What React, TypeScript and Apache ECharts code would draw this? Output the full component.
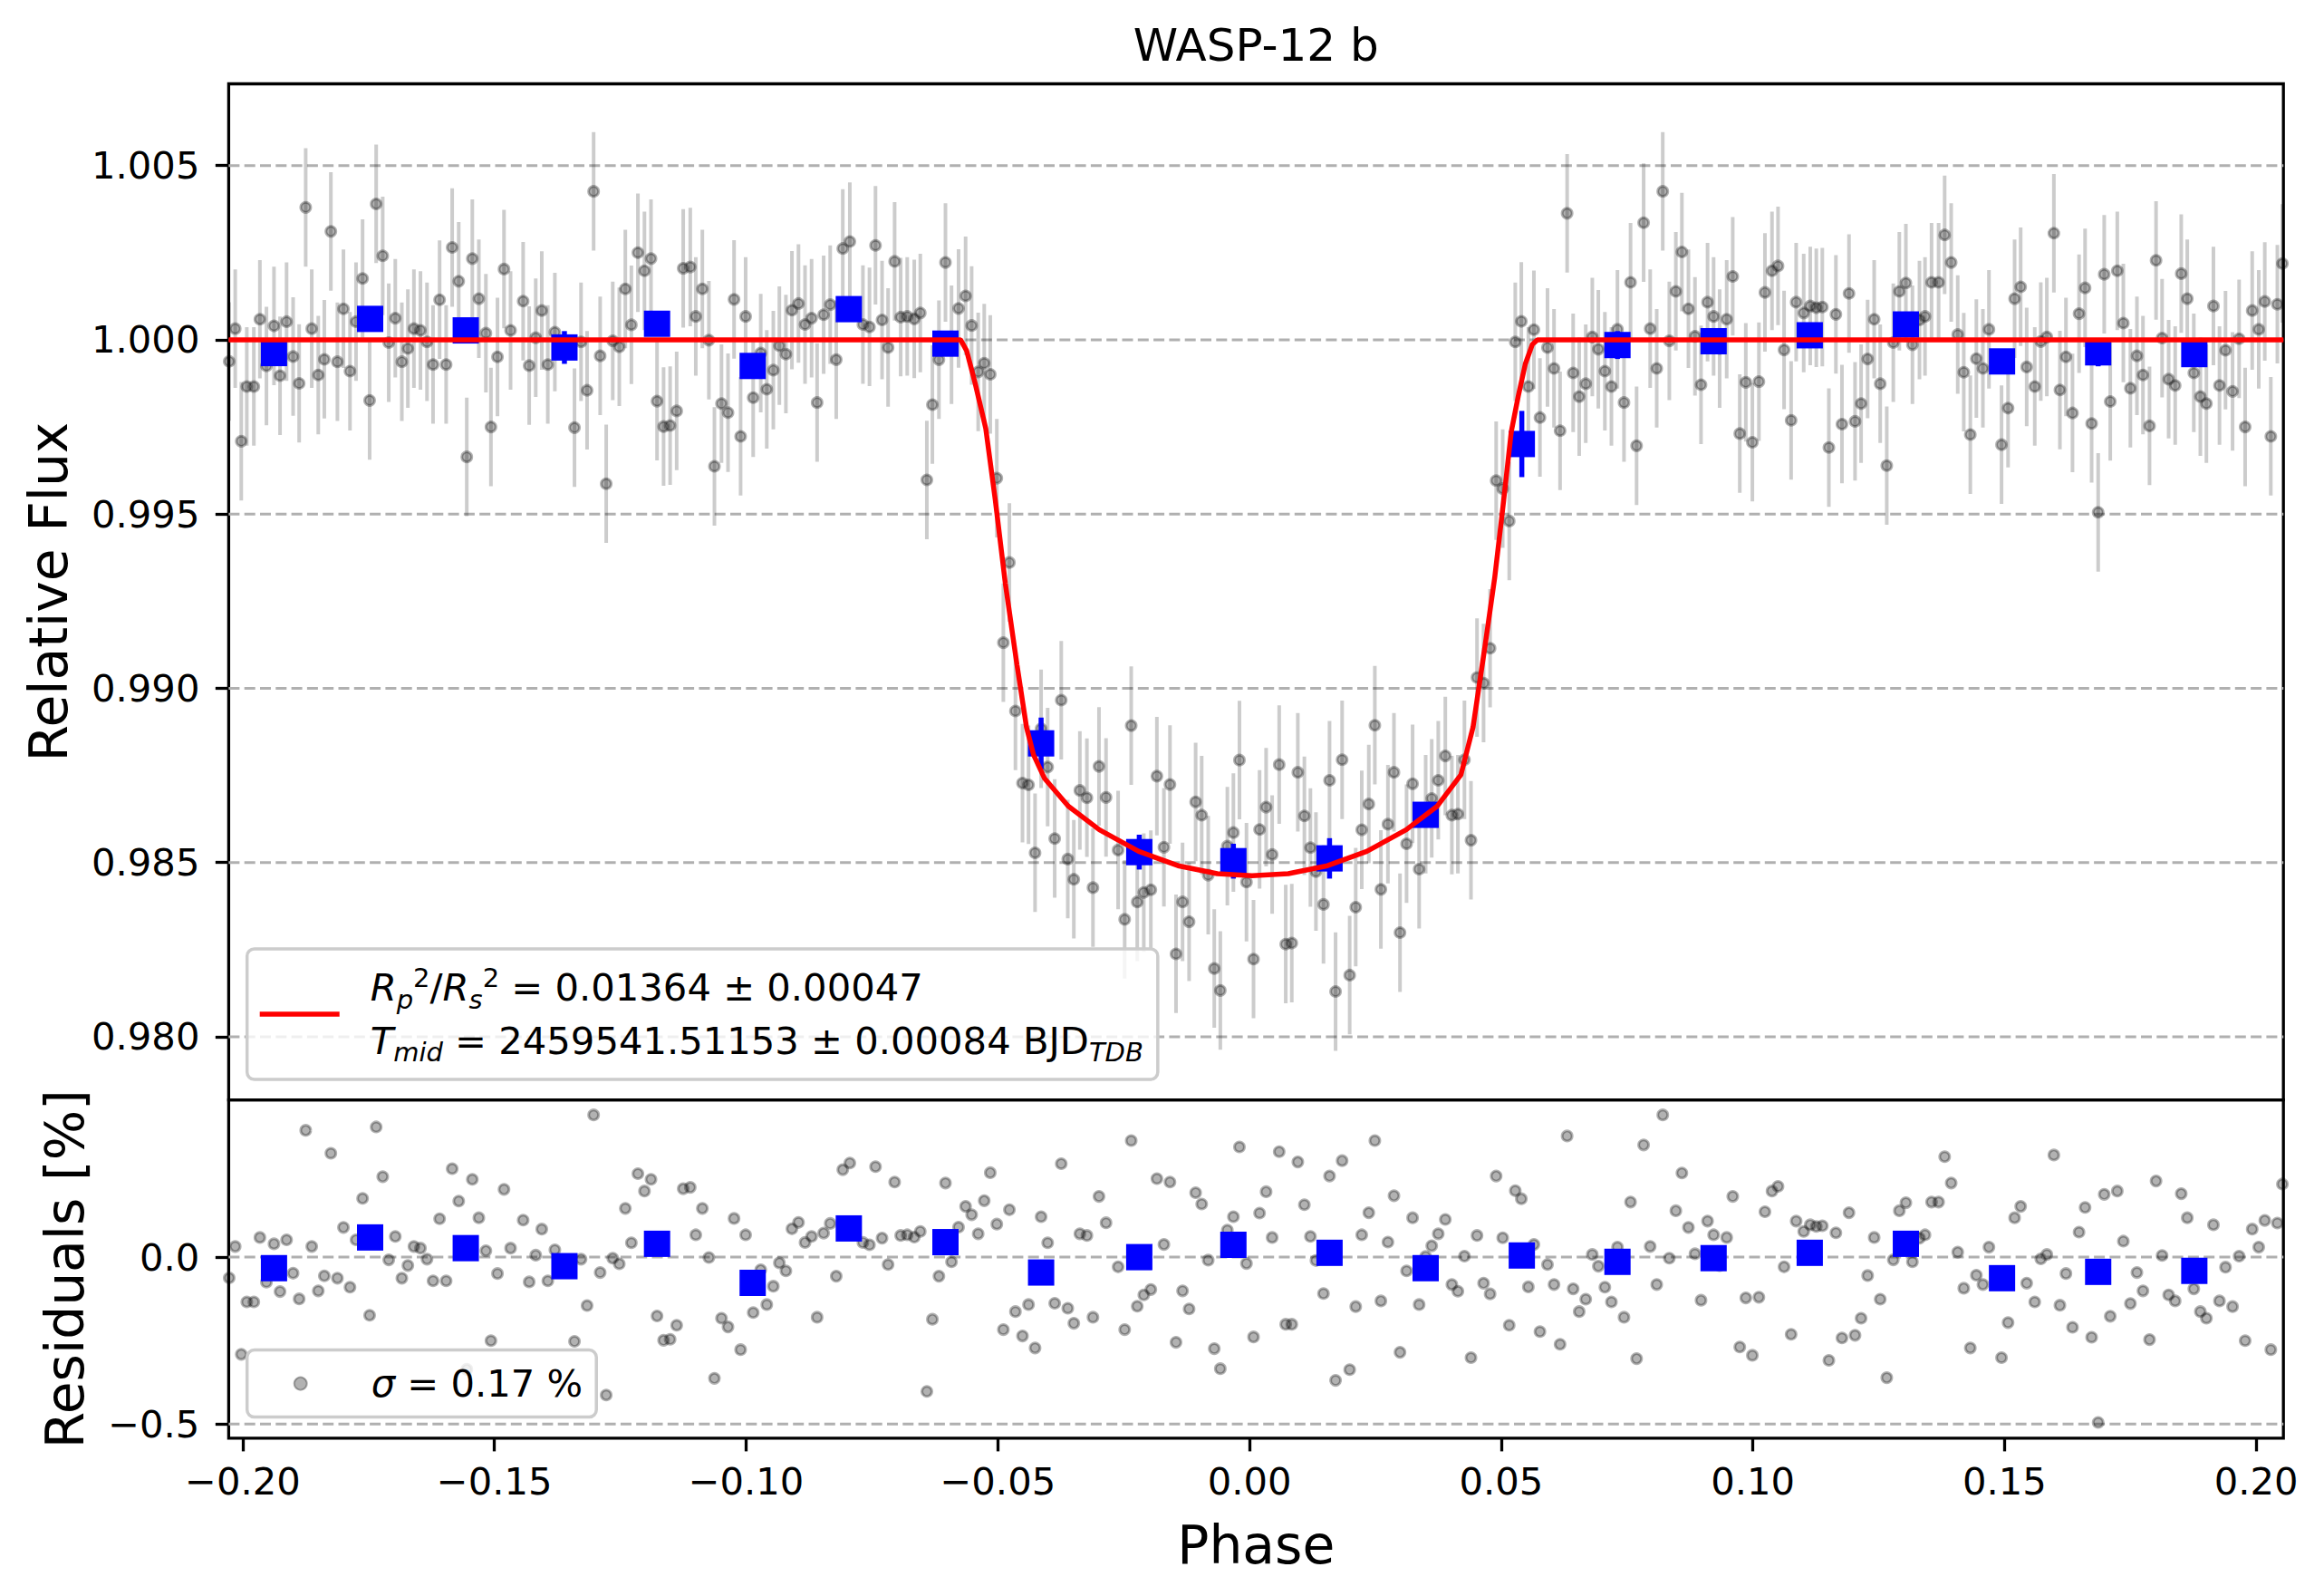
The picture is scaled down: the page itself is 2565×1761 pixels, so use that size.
import React, { useEffect, useRef } from 'react';
import * as echarts from 'echarts';

// ---------- data ----------
const PHASE = [
  -0.2027, -0.2015, -0.2003, -0.1992, -0.1978, -0.1966, -0.1953, -0.1938, -0.1926, -0.1913,
  -0.1900, -0.1888, -0.1875, -0.1863, -0.1850, -0.1838, -0.1825, -0.1812, -0.1800, -0.1787,
  -0.1775, -0.1762, -0.1748, -0.1735, -0.1722, -0.1710, -0.1697, -0.1684, -0.1672, -0.1660,
  -0.1647, -0.1634, -0.1622, -0.1609, -0.1596, -0.1584, -0.1571, -0.1555, -0.1544, -0.1531,
  -0.1517, -0.1507, -0.1494, -0.1481, -0.1468, -0.1443, -0.1431, -0.1418, -0.1406, -0.1394,
  -0.1380, -0.1341, -0.1328, -0.1316, -0.1303, -0.1290, -0.1278, -0.1265, -0.1252, -0.1240,
  -0.1228, -0.1215, -0.1202, -0.1189, -0.1177, -0.1164, -0.1151, -0.1138, -0.1125, -0.1111,
  -0.1100, -0.1087, -0.1074, -0.1063, -0.1049, -0.1036, -0.1024, -0.1011, -0.1001,
  -0.0986, -0.0971, -0.0959, -0.0946, -0.0934, -0.0921, -0.0909, -0.0896, -0.0883, -0.0870,
  -0.0859, -0.0846, -0.0833, -0.0821, -0.0808, -0.0794, -0.0768, -0.0755, -0.0743, -0.0730,
  -0.0718, -0.0705, -0.0693, -0.0680, -0.0666, -0.0654, -0.0641, -0.0630, -0.0617, -0.0604,
  -0.0592, -0.0578, -0.0564, -0.0552, -0.0539, -0.0527, -0.0515, -0.0502, -0.0489, -0.0477,
  -0.0465, -0.0451, -0.0439, -0.0426, -0.0414, -0.0401, -0.0387, -0.0374, -0.0361, -0.0349,
  -0.0337, -0.0323, -0.0311, -0.0299, -0.0285, -0.0261, -0.0248, -0.0235, -0.0223, -0.0210,
  -0.0196, -0.0184, -0.0170, -0.0158, -0.0146, -0.0133, -0.0120, -0.0107, -0.0095, -0.0082,
  -0.0070, -0.0058, -0.0044, -0.0032, -0.0020, -0.0006, 0.0008, 0.0020, 0.0033, 0.0045,
  0.0059, 0.0072, 0.0084, 0.0096, 0.0109, 0.0121, 0.0132, 0.0147, 0.0159, 0.0171,
  0.0184, 0.0199, 0.0211, 0.0223, 0.0237, 0.0249, 0.0261, 0.0275, 0.0287, 0.0299,
  0.0312, 0.0324, 0.0337, 0.0350, 0.0362, 0.0375, 0.0389, 0.0402, 0.0414, 0.0427,
  0.0440, 0.0452, 0.0465, 0.0478, 0.0490, 0.0503, 0.0516, 0.0528, 0.0540, 0.0554,
  0.0565, 0.0577, 0.0592, 0.0605, 0.0617, 0.0631, 0.0643, 0.0655, 0.0668, 0.0681,
  0.0693, 0.0706, 0.0719, 0.0731, 0.0744, 0.0757, 0.0769, 0.0783, 0.0796, 0.0809,
  0.0821, 0.0834, 0.0847, 0.0859, 0.0872, 0.0885, 0.0897, 0.0910, 0.0922, 0.0934,
  0.0948, 0.0960, 0.0974, 0.0986, 0.0999, 0.1012, 0.1024, 0.1038, 0.1050, 0.1062,
  0.1076, 0.1086,
  0.1101, 0.1114, 0.1126, 0.1138, 0.1151, 0.1165, 0.1177, 0.1191, 0.1203, 0.1215,
  0.1228, 0.1241, 0.1253, 0.1266, 0.1279, 0.1291, 0.1304, 0.1317, 0.1331, 0.1342,
  0.1355, 0.1369, 0.1381, 0.1394, 0.1407, 0.1419, 0.1432, 0.1444, 0.1457, 0.1469,
  0.1494, 0.1507, 0.1520, 0.1532, 0.1544, 0.1560, 0.1572, 0.1584, 0.1598, 0.1610,
  0.1622, 0.1635, 0.1648, 0.1660, 0.1673, 0.1686, 0.1698, 0.1710, 0.1724, 0.1736,
  0.1750, 0.1763, 0.1775, 0.1788, 0.1801, 0.1813, 0.1826, 0.1839, 0.1851, 0.1863,
  0.1876, 0.1889, 0.1901, 0.1915, 0.1927, 0.1939, 0.1953, 0.1966, 0.1978, 0.1992,
  0.2005, 0.2017, 0.2029, 0.2042, 0.2052,
];

const FLUX = [
  0.99938, 1.00032, 0.99709, 0.99866, 0.99866, 1.00059, 0.99925, 1.00040, 0.99897, 1.00052,
  0.99952, 0.99875, 1.00380, 1.00032, 0.99899, 0.99944, 1.00311, 0.99937, 1.00089, 0.99910,
  1.00052, 1.00176, 0.99826, 1.00390, 1.00241, 0.99992, 1.00062, 0.99937, 0.99975, 1.00032,
  1.00027, 0.99994, 0.99929, 1.00115, 0.99929, 1.00265, 1.00168, 0.99664, 1.00233, 1.00118,
  1.00019, 0.99750, 0.99951, 1.00203, 1.00027, 1.00111, 0.99926, 1.00006, 1.00084, 0.99929,
  1.00022, 0.99748, 0.99994, 0.99855, 1.00426, 0.99954, 0.99587, 0.99997, 0.99980, 1.00146,
  1.00043, 1.00250, 1.00198, 1.00233, 0.99824, 0.99751, 0.99754, 0.99796, 1.00205, 1.00209,
  1.00067, 1.00146, 0.99999, 0.99637, 0.99817, 0.99791, 1.00116, 0.99723, 1.00067,
  0.99834, 0.99962, 0.99858, 0.99913, 0.99983, 0.99959, 1.00085, 1.00104, 1.00044, 1.00062,
  0.99820, 1.00072, 1.00101, 0.99943, 1.00262, 1.00282, 1.00044, 1.00037, 1.00271, 1.00057,
  0.99978, 1.00225, 1.00065, 1.00067, 1.00060, 1.00077, 0.99598, 0.99814, 0.99943, 1.00222,
  0.99986, 1.00090, 1.00126, 1.00041, 0.99908, 0.99933, 0.99901, 0.99603, 0.99131, 0.99361,
  0.98935, 0.98728, 0.98723, 0.98528, 0.98884, 0.98774, 0.98569, 0.98966, 0.98510, 0.98452,
  0.98707, 0.98686, 0.98428, 0.98776, 0.98687, 0.98536, 0.98337, 0.98893, 0.98387, 0.98414,
  0.98422, 0.98748, 0.98544, 0.98724, 0.98238, 0.98387, 0.98330, 0.98674, 0.98636, 0.98464,
  0.98196, 0.98133, 0.98547, 0.98586, 0.98794, 0.98444, 0.98223, 0.98595, 0.98659, 0.98523,
  0.98781, 0.98266, 0.98269, 0.98759, 0.98634, 0.98543, 0.98474, 0.98380, 0.98736, 0.98130,
  0.98795, 0.98177, 0.98372, 0.98594, 0.98668, 0.98894, 0.98423, 0.98610, 0.98759, 0.98299,
  0.98554, 0.98726, 0.98481, 0.98639, 0.98684, 0.98736, 0.98806, 0.98636, 0.98639, 0.98795,
  0.98564, 0.99031, 0.99015, 0.99115, 0.99596, 0.99573, 0.99480, 0.99994, 1.00053, 0.99866,
  1.00029, 0.99777, 0.99978, 0.99918, 0.99739, 1.00363, 0.99905, 0.99837, 0.99874, 1.00008,
  0.99973, 0.99910, 0.99866, 1.00030, 0.99820, 1.00165, 0.99696, 1.00336, 1.00032, 0.99918,
  1.00426, 0.99997, 1.00139, 1.00252, 1.00089, 1.00010, 0.99871, 1.00108, 1.00067, 0.99975,
  1.00059, 1.00182, 0.99731, 0.99878, 0.99706, 0.99880, 1.00136, 1.00198, 1.00212, 0.99971,
  0.99769, 1.00108,
  1.00077, 1.00097, 1.00092, 1.00094, 0.99691, 1.00073, 0.99758, 1.00133, 0.99766, 0.99817,
  0.99945, 1.00059, 0.99874, 0.99639, 0.99992, 1.00139, 1.00163, 0.99986, 1.00057, 1.00067,
  1.00165, 1.00165, 1.00301, 1.00222, 1.00015, 0.99907, 0.99728, 0.99946, 0.99918, 1.00030,
  0.99699, 0.99804, 1.00118, 1.00152, 0.99922, 0.99866, 0.99995, 1.00008, 1.00306, 0.99856,
  0.99951, 0.99790, 1.00075, 1.00149, 0.99760, 0.99505, 1.00188, 0.99823, 1.00198, 1.00048,
  0.99861, 0.99954, 0.99899, 0.99753, 1.00228, 1.00005, 0.99887, 0.99869, 1.00190, 1.00118,
  0.99905, 0.99837, 0.99817, 1.00097, 0.99869, 0.99970, 0.99852, 1.00003, 0.99750, 1.00084,
  1.00030, 1.00110, 0.99723, 1.00102, 1.00219,
];

const RESID = [
  -0.062, 0.032, -0.291, -0.134, -0.134, 0.059, -0.075, 0.040, -0.103, 0.052,
  -0.048, -0.125, 0.380, 0.032, -0.101, -0.056, 0.311, -0.063, 0.089, -0.090,
  0.052, 0.176, -0.174, 0.390, 0.241, -0.008, 0.062, -0.063, -0.025, 0.032,
  0.027, -0.006, -0.071, 0.115, -0.071, 0.265, 0.168, -0.336, 0.233, 0.118,
  0.019, -0.250, -0.049, 0.203, 0.027, 0.111, -0.074, 0.006, 0.084, -0.071,
  0.022, -0.252, -0.006, -0.145, 0.426, -0.046, -0.413, -0.003, -0.020, 0.146,
  0.043, 0.250, 0.198, 0.233, -0.176, -0.249, -0.246, -0.204, 0.205, 0.209,
  0.067, 0.146, -0.001, -0.363, -0.183, -0.209, 0.116, -0.277, 0.067,
  -0.166, -0.038, -0.142, -0.087, -0.017, -0.041, 0.085, 0.104, 0.044, 0.062,
  -0.180, 0.072, 0.101, -0.057, 0.262, 0.282, 0.044, 0.037, 0.271, 0.057,
  -0.022, 0.225, 0.065, 0.067, 0.060, 0.077, -0.402, -0.186, -0.057, 0.222,
  -0.014, 0.090, 0.152, 0.127, 0.070, 0.169, 0.253, 0.099, -0.217, 0.142,
  -0.163, -0.236, -0.142, -0.272, 0.121, 0.043, -0.138, 0.280, -0.153, -0.198,
  0.070, 0.065, -0.180, 0.182, 0.103, -0.029, -0.217, 0.349, -0.147, -0.113,
  -0.097, 0.235, 0.038, 0.225, -0.255, -0.101, -0.155, 0.193, 0.159, -0.009,
  -0.274, -0.334, 0.081, 0.121, 0.330, -0.019, -0.239, 0.132, 0.196, 0.059,
  0.316, -0.201, -0.201, 0.285, 0.157, 0.062, -0.010, -0.109, 0.243, -0.369,
  0.289, -0.337, -0.148, 0.067, 0.133, 0.349, -0.131, 0.045, 0.184, -0.285,
  -0.041, 0.118, -0.142, 0.002, 0.034, 0.070, 0.113, -0.082, -0.102, 0.003,
  -0.301, 0.065, -0.078, -0.110, 0.243, 0.058, -0.204, 0.199, 0.175, -0.089,
  0.038, -0.223, -0.022, -0.082, -0.261, 0.363, -0.095, -0.163, -0.126, 0.008,
  -0.027, -0.090, -0.134, 0.030, -0.180, 0.165, -0.304, 0.336, 0.032, -0.082,
  0.426, -0.003, 0.139, 0.252, 0.089, 0.010, -0.129, 0.108, 0.067, -0.025,
  0.059, 0.182, -0.269, -0.122, -0.294, -0.120, 0.136, 0.198, 0.212, -0.029,
  -0.231, 0.108,
  0.077, 0.097, 0.092, 0.094, -0.309, 0.073, -0.242, 0.133, -0.234, -0.183,
  -0.055, 0.059, -0.126, -0.361, -0.008, 0.139, 0.163, -0.014, 0.057, 0.067,
  0.165, 0.165, 0.301, 0.222, 0.015, -0.093, -0.272, -0.054, -0.082, 0.030,
  -0.301, -0.196, 0.118, 0.152, -0.078, -0.134, -0.005, 0.008, 0.306, -0.144,
  -0.049, -0.210, 0.075, 0.149, -0.240, -0.495, 0.188, -0.177, 0.198, 0.048,
  -0.139, -0.046, -0.101, -0.247, 0.228, 0.005, -0.113, -0.131, 0.190, 0.118,
  -0.095, -0.163, -0.183, 0.097, -0.131, -0.030, -0.148, 0.003, -0.250, 0.084,
  0.030, 0.110, -0.277, 0.102, 0.219,
];

const FLUX_ERR = 0.0017;

const BIN_PHASE = [
  -0.1938, -0.1747, -0.1557, -0.1361, -0.1177, -0.0987, -0.0796, -0.0604, -0.0414, -0.0219,
  -0.0032, 0.0159, 0.0350, 0.0541, 0.0731, 0.0922, 0.1113, 0.1304, 0.1495, 0.1686, 0.1877,
];
const BIN_FLUX = [
  0.99962, 1.00060, 1.00027, 0.99978, 1.00046, 0.99925, 1.00088, 0.99989, 0.98842, 0.98530,
  0.98504, 0.98512, 0.98637, 0.99701, 0.99985, 0.99996, 1.00013, 1.00044, 0.99938, 0.99964, 0.99959,
];
const BIN_FLUX_ERR = [
  0.0003, 0.0003, 0.00035, 0.00047, 0.0003, 0.0003, 0.0003, 0.0003, 0.00074, 0.0005,
  0.0005, 0.00058, 0.0003, 0.00095, 0.0004, 0.0003, 0.0003, 0.0003, 0.0003, 0.0004, 0.0003,
];
const BIN_RESID = [
  -0.033, 0.059, 0.027, -0.027, 0.040, -0.077, 0.086, 0.045, -0.046, 0.000,
  0.037, 0.013, -0.033, 0.005, -0.014, -0.003, 0.013, 0.040, -0.063, -0.044, -0.041,
];

const MODEL_PHASE = [
  -0.2028, -0.0574, -0.0562, -0.0545, -0.0524, -0.0505, -0.0485, -0.0462, -0.0443, -0.0429,
  -0.0407, -0.0360, -0.0298, -0.0220, -0.0142, -0.0064, 0.0005, 0.0077, 0.0155, 0.0233,
  0.0311, 0.0373, 0.0420, 0.0432, 0.0444, 0.0467, 0.0487, 0.0505, 0.0520, 0.0534,
  0.0548, 0.0562, 0.0572, 0.2054,
];
const MODEL_FLUX = [
  1.0, 1.0, 0.99969, 0.99875, 0.99746, 0.99540, 0.99300, 0.99068, 0.98888, 0.98809,
  0.98741, 0.98662, 0.98594, 0.98532, 0.98491, 0.98468, 0.98462, 0.98468, 0.98491, 0.98532,
  0.98594, 0.98662, 0.98752, 0.98820, 0.98888, 0.99113, 0.99316, 0.99540, 0.99736, 0.99839,
  0.99931, 0.99987, 1.0, 1.0,
];

const X_TICKS = [-0.2, -0.15, -0.1, -0.05, 0, 0.05, 0.1, 0.15, 0.2];
const FLUX_TICKS = [0.98, 0.985, 0.99, 0.995, 1.0, 1.005];
const RESID_TICKS = [-0.5, 0.0];
const X_RANGE = [-0.2028, 0.2054];
const FLUX_RANGE = [0.97819, 1.007345];
const RESID_RANGE = [-0.542, 0.471];

const TITLE = 'WASP-12 b';

// ---------- styling ----------
const W = 2565;
const H = 1761;
const F = "'DejaVu Sans', sans-serif";
const TICK_FS = 41.7;
const LABEL_FS = 58.3;
const G_LEFT = 252.4;
const G_RIGHT = W - 2520.2;
const TOP_Y = 92.5;
const MID_Y = 1213.6;
const BOT_Y = 1586.8;

const minus = (s: string) => s.replace('-', '\u2212');

const gridLineSeries = (xi: number, values: number[]) => ({
  type: 'custom',
  xAxisIndex: xi,
  yAxisIndex: xi,
  z: 1,
  silent: true,
  data: values.map((v) => [0, v]),
  renderItem: (params: any, api: any) => {
    const y = api.coord([0, api.value(1)])[1];
    const cs = params.coordSys;
    return {
      type: 'line',
      shape: { x1: cs.x, y1: y, x2: cs.x + cs.width, y2: y },
      style: { stroke: '#b0b0b0', lineWidth: 3, lineDash: [12, 5.3] },
    };
  },
});

const errorBarSeries = (xs: number[], ys: number[], err: (i: number) => number, color: string, width: number, z: number) => ({
  type: 'custom',
  xAxisIndex: 0,
  yAxisIndex: 0,
  z,
  silent: true,
  data: xs.map((x, i) => [x, ys[i], err(i)]),
  renderItem: (_params: any, api: any) => {
    const x = api.value(0);
    const y = api.value(1);
    const e = api.value(2);
    const a = api.coord([x, y + e]);
    const b = api.coord([x, y - e]);
    return {
      type: 'line',
      shape: { x1: a[0], y1: a[1], x2: b[0], y2: b[1] },
      style: { stroke: color, lineWidth: width },
    };
  },
});

const legRich = (lh: number) => ({
  n: { fontFamily: F, fontSize: TICK_FS, color: '#000', lineHeight: lh },
  it: { fontFamily: F, fontSize: TICK_FS, fontStyle: 'italic', color: '#000', lineHeight: lh },
  sp: { fontFamily: F, fontSize: 29, color: '#000', lineHeight: lh, padding: [0, 0, 22, 0] },
  sb0: { fontFamily: F, fontSize: 29, fontStyle: 'italic', color: '#000', lineHeight: lh, padding: [26, 0, 0, 0] },
  sb: { fontFamily: F, fontSize: 29, fontStyle: 'italic', color: '#000', lineHeight: lh, padding: [24, 0, 0, 0] },
  g1: { fontFamily: F, fontSize: TICK_FS, lineHeight: lh, width: 29 },
  g2: { fontFamily: F, fontSize: TICK_FS, lineHeight: lh, width: 66 },
});

const LEGEND1 =
  '{g1| }{it|R}{sb0|p}{sp|2}{n|/}{it|R}{sb0|s}{sp|2}{n| = 0.01364 ± 0.00047}\n' +
  '{g1| }{it|T}{sb|mid}{n| = 2459541.51153 ± 0.00084 BJD}{sb|TDB}';
const LEGEND2 = '{g2| }{it|σ}{n| = 0.17 %}';

const legendBox = {
  backgroundColor: 'rgba(255,255,255,0.8)',
  borderColor: '#cccccc',
  borderWidth: 3.5,
  borderRadius: 8,
  selectedMode: false,
  orient: 'horizontal',
};

const tickStyle = { show: true, length: 14.6, inside: false, lineStyle: { color: '#000', width: 3.3 } };
const noLine = { show: false, onZero: false };

function buildOption() {
  return {
    animation: false,
    backgroundColor: '#ffffff',
    graphic: [
      {
        type: 'text',
        x: (G_LEFT + (W - G_RIGHT)) / 2,
        y: 50,
        style: {
          text: TITLE,
          fontFamily: F,
          fontSize: 50,
          fill: '#000',
          align: 'center',
          verticalAlign: 'middle',
          textAlign: 'center',
          textVerticalAlign: 'middle',
        },
      },
    ],
    grid: [
      {
        left: G_LEFT, right: G_RIGHT, top: TOP_Y, height: MID_Y - TOP_Y,
        show: true, borderColor: '#000', borderWidth: 3.3, backgroundColor: 'transparent',
        containLabel: false, outerBoundsMode: 'none',
      },
      {
        left: G_LEFT, right: G_RIGHT, top: MID_Y, height: BOT_Y - MID_Y,
        show: true, borderColor: '#000', borderWidth: 3.3, backgroundColor: 'transparent',
        containLabel: false, outerBoundsMode: 'none',
      },
    ],
    xAxis: [
      {
        type: 'value', gridIndex: 0, min: X_RANGE[0], max: X_RANGE[1], position: 'bottom',
        axisLine: noLine, axisTick: { show: false }, axisLabel: { show: false },
        splitLine: { show: false },
      },
      {
        type: 'value', gridIndex: 1, min: X_RANGE[0], max: X_RANGE[1], position: 'bottom',
        axisLine: noLine,
        axisTick: { ...tickStyle, customValues: X_TICKS },
        axisLabel: {
          show: true, customValues: X_TICKS, margin: 27,
          fontFamily: F, fontSize: TICK_FS, color: '#000',
          formatter: (v: number) => minus(v.toFixed(2)),
        },
        splitLine: { show: false },
        name: 'Phase', nameLocation: 'middle', nameGap: 89,
        nameTextStyle: { fontFamily: F, fontSize: LABEL_FS, color: '#000', lineHeight: 58 },
      },
    ],
    yAxis: [
      {
        type: 'value', gridIndex: 0, min: FLUX_RANGE[0], max: FLUX_RANGE[1], position: 'left',
        axisLine: noLine,
        axisTick: { ...tickStyle, customValues: FLUX_TICKS },
        axisLabel: {
          show: true, customValues: FLUX_TICKS, margin: 32,
          fontFamily: F, fontSize: TICK_FS, color: '#000',
          formatter: (v: number) => v.toFixed(3),
        },
        splitLine: { show: false },
        name: 'Relative Flux', nameLocation: 'middle', nameGap: 169.6, nameRotate: 90,
        nameTextStyle: { fontFamily: F, fontSize: LABEL_FS, color: '#000', lineHeight: 58 },
      },
      {
        type: 'value', gridIndex: 1, min: RESID_RANGE[0], max: RESID_RANGE[1], position: 'left',
        axisLine: noLine,
        axisTick: { ...tickStyle, customValues: RESID_TICKS },
        axisLabel: {
          show: true, customValues: RESID_TICKS, margin: 32,
          fontFamily: F, fontSize: TICK_FS, color: '#000',
          formatter: (v: number) => minus(v.toFixed(1)),
        },
        splitLine: { show: false },
        name: 'Residuals [%]', nameLocation: 'middle', nameGap: 151.6, nameRotate: 90,
        nameTextStyle: { fontFamily: F, fontSize: LABEL_FS, color: '#000', lineHeight: 58 },
      },
    ],
    legend: [
      {
        ...legendBox,
        data: ['model'],
        icon: 'rect',
        left: 272.7,
        top: 1047,
        itemWidth: 88,
        itemHeight: 5.5,
        padding: [13, 16, 13, 14],
        formatter: () => LEGEND1,
        textStyle: {
          fontFamily: F, fontSize: TICK_FS, color: '#000', lineHeight: 59,
          rich: legRich(59),
        },
      },
      {
        ...legendBox,
        data: ['resid'],
        icon: 'circle',
        left: 272.7,
        top: 1489.6,
        itemWidth: 14,
        itemHeight: 14,
        padding: [13, 15, 13, 51],
        formatter: () => LEGEND2,
        textStyle: {
          fontFamily: F, fontSize: TICK_FS, color: '#000', lineHeight: 48,
          rich: legRich(48),
        },
      },
    ],
    series: [
      gridLineSeries(0, FLUX_TICKS),
      gridLineSeries(1, RESID_TICKS),
      errorBarSeries(PHASE, FLUX, () => FLUX_ERR, 'rgba(0,0,0,0.2)', 4, 2),
      {
        name: 'flux',
        type: 'scatter',
        xAxisIndex: 0,
        yAxisIndex: 0,
        z: 3,
        silent: true,
        symbol: 'circle',
        symbolSize: 11,
        itemStyle: { color: 'rgba(0,0,0,0.3)', borderColor: 'rgba(0,0,0,0.3)', borderWidth: 3, opacity: 1 },
        data: PHASE.map((p, i) => [p, FLUX[i]]),
      },
      errorBarSeries(BIN_PHASE, BIN_FLUX, (i) => BIN_FLUX_ERR[i], '#0000ff', 5.5, 4),
      {
        name: 'binned',
        type: 'scatter',
        xAxisIndex: 0,
        yAxisIndex: 0,
        z: 5,
        silent: true,
        symbol: 'rect',
        symbolSize: 29,
        itemStyle: { color: '#0000ff', opacity: 1 },
        data: BIN_PHASE.map((p, i) => [p, BIN_FLUX[i]]),
      },
      {
        name: 'model',
        type: 'line',
        xAxisIndex: 0,
        yAxisIndex: 0,
        z: 6,
        silent: true,
        color: '#ff0000',
        symbol: 'none',
        showSymbol: false,
        smooth: false,
        lineStyle: { color: '#ff0000', width: 5.5 },
        itemStyle: { color: '#ff0000' },
        data: MODEL_PHASE.map((p, i) => [p, MODEL_FLUX[i]]),
      },
      {
        name: 'resid',
        type: 'scatter',
        xAxisIndex: 1,
        yAxisIndex: 1,
        z: 3,
        silent: true,
        symbol: 'circle',
        symbolSize: 11,
        itemStyle: { color: 'rgba(0,0,0,0.3)', borderColor: 'rgba(0,0,0,0.3)', borderWidth: 3, opacity: 1 },
        data: PHASE.map((p, i) => [p, RESID[i]]),
      },
      {
        name: 'binnedResid',
        type: 'scatter',
        xAxisIndex: 1,
        yAxisIndex: 1,
        z: 5,
        silent: true,
        symbol: 'rect',
        symbolSize: 29,
        itemStyle: { color: '#0000ff', opacity: 1 },
        data: BIN_PHASE.map((p, i) => [p, BIN_RESID[i]]),
      },
    ],
  };
}

export default function App() {
  const ref = useRef<HTMLDivElement>(null);
  useEffect(() => {
    if (!ref.current) return;
    const chart = echarts.init(ref.current, null, { renderer: 'svg' });
    chart.setOption(buildOption() as any);
    return () => chart.dispose();
  }, []);
  return (
    <div
      ref={ref}
      style={{ position: 'fixed', left: 0, top: 0, width: `${W}px`, height: `${H}px`, background: '#fff' }}
    />
  );
}
